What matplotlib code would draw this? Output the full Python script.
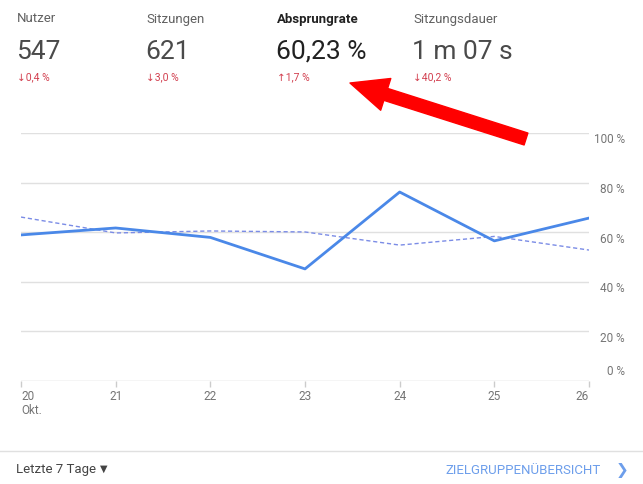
import matplotlib
matplotlib.use("Agg")
import matplotlib.pyplot as plt
from matplotlib.patches import FancyArrowPatch

plt.rcParams['font.family'] = ['Roboto', 'DejaVu Sans']

# data
days = ["20", "21", "22", "23", "24", "25", "26"]
bounce_now = [58.9, 61.7, 57.9, 45.2, 76.2, 56.5, 65.7]
bounce_prev = [66.1, 59.7, 60.5, 60.1, 54.8, 58.3, 52.8]
y_ticks = [0, 20, 40, 60, 80, 100]
y_labels = ["0 %", "20 %", "40 %", "60 %", "80 %", "100 %"]

metric_names = ["Nutzer", "Sitzungen", "Absprungrate", "Sitzungsdauer"]
metric_values = ["547", "621", "60,23 %", "1 m 07 s"]
metric_changes = ["\u21930,4 %", "\u21933,0 %", "\u21911,7 %", "\u219340,2 %"]
metric_x = [17, 146, 277, 413]

W, H = 643, 484
fig = plt.figure(figsize=(W / 100, H / 100), dpi=100)
fig.patch.set_facecolor("white")

def fx(px):
    return px / W

def fy(py):
    return 1 - py / H

# header metrics
for i in range(len(metric_names)):
    sel = metric_names[i] == "Absprungrate"
    fig.text(fx(metric_x[i]), fy(19), metric_names[i], fontsize=9.5,
             color="#212121" if sel else "#616161",
             fontweight="bold" if sel else "normal", va="center", ha="left")
    fig.text(fx(metric_x[i] - 1), fy(52), metric_values[i], fontsize=19,
             color="#212121" if sel else "#4a4a4a",
             fontweight="normal", va="center", ha="left")
    fig.text(fx(metric_x[i]), fy(77), metric_changes[i], fontsize=7.5,
             color="#d23f4f", va="center", ha="left")

# chart
ax = fig.add_axes([fx(21), fy(381), fx(589) - fx(21), fy(133) - fy(381)])
xs = list(range(len(days)))
ax.plot(xs, bounce_prev, color="#7b8ce6", lw=1.0, ls=(0, (3, 2)), zorder=2)
ax.plot(xs, bounce_now, color="#4a88e8", lw=2.0, zorder=3)
ax.set_xlim(0, len(days) - 1)
ax.set_ylim(0, 100)
for t in y_ticks[1:]:
    ax.axhline(t, color="#e0e0e0", lw=1, zorder=1)
ax.axhline(0, color="#cccccc", lw=1, zorder=1)
for s in ax.spines.values():
    s.set_visible(False)
ax.set_yticks([])
ax.set_xticks(xs)
ax.set_xticklabels([])
ax.tick_params(axis="x", length=4, color="#cccccc", width=1)
ax.set_facecolor("none")

# x labels
for i, d in enumerate(days):
    ha = "center"
    if i == 0:
        ha = "left"
    elif i == len(days) - 1:
        ha = "right"
    ax.annotate(d, (i, 0), xytext=(0, -11), textcoords="offset points",
                ha=ha, va="center", fontsize=8.5, color="#757575")
ax.annotate("Okt.", (0, 0), xytext=(0, -21), textcoords="offset points",
            ha="left", va="center", fontsize=8.5, color="#757575")

# y labels on the right
for t, lab in zip(y_ticks, y_labels):
    off = -5 if t > 0 else 7
    ax.annotate(lab, (1, t), xycoords=("axes fraction", "data"),
                xytext=(26, off), textcoords="offset points",
                ha="right", va="center", fontsize=8.5, color="#757575")

# red arrow
arrow = FancyArrowPatch((fx(526), fy(139)), (fx(350), fy(83)),
                        transform=fig.transFigure, color="#ff0000",
                        arrowstyle="simple,head_width=2.4,head_length=2.7,tail_width=0.9",
                        mutation_scale=10, capstyle="round", joinstyle="round",
                        shrinkA=0, shrinkB=0, zorder=10)
fig.patches.append(arrow)

# footer
fig.add_artist(plt.Line2D([0, 1], [fy(451), fy(451)], transform=fig.transFigure,
                          color="#e0e0e0", lw=1))
fig.text(fx(16), fy(470), "Letzte 7 Tage", fontsize=9.5, color="#444444",
         va="center", ha="left")
fig.text(fx(104), fy(469), "\u25BC", fontsize=7, color="#444444",
         va="center", ha="center")
fig.text(fx(601), fy(470), "ZIELGRUPPEN\u00dcBERSICHT", fontsize=9.5, color="#6d9eeb",
         va="center", ha="right")
fig.text(fx(622), fy(470), "\u276F", fontsize=11, color="#6d9eeb",
         va="center", ha="center", family=["DejaVu Sans"])

fig.savefig("out.png", dpi=100)
